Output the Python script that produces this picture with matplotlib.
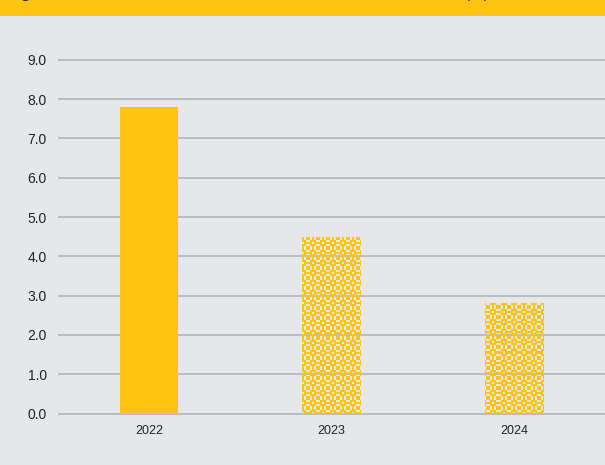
import numpy as np
import matplotlib
matplotlib.use("Agg")
import matplotlib.pyplot as plt
from matplotlib.patches import Rectangle

plt.rcParams['font.family'] = ['Liberation Sans', 'DejaVu Sans']

# values per year
anos = ['2022', '2023', '2024']
valores = [7.8, 4.5, 2.8]
projecao = [False, True, True]  # hatched = forecast
yticks = [0.0, 1.0, 2.0, 3.0, 4.0, 5.0, 6.0, 7.0, 8.0, 9.0]

amarelo = '#ffc312'
fundo = '#e6e7e8'
grade = '#b3b4b7'

fig = plt.figure(figsize=(6.05, 4.65), dpi=100, facecolor=fundo)
ax = fig.add_axes([58/605, 0.1065, 547/605, 0.769])
ax.set_facecolor(fundo)

# faixa amarela do título
fig.patches.append(Rectangle((0, 449/465), 1, 16/465, transform=fig.transFigure,
                             facecolor=amarelo, edgecolor='none', zorder=0))
fig.text(0.012, 1.004, 'Figure', fontsize=12, fontweight='bold', color='#222222',
         va='baseline', ha='left')
fig.text(0.808, 1.004, '(%)', fontsize=11, color='#222222', va='baseline', ha='right')

x = np.arange(len(anos))

for v in yticks:
    ax.axhline(v, color=grade, lw=1.2, zorder=1)

barras = ax.bar(x, valores, width=0.32, zorder=2,
                color=[('none' if p else amarelo) for p in projecao], edgecolor='none')

# textura de anéis para as barras projetadas
motivo = np.array([
    [1, 0, 1, 0, 1],
    [0, 1, 1, 1, 0],
    [1, 1, 0, 1, 1],
    [0, 1, 1, 1, 0],
    [1, 0, 1, 0, 1],
])
h, w = 358, 547
cel = 2
tile = np.kron(motivo, np.ones((cel, cel)))
mask = np.tile(tile, (h // tile.shape[0] + 1, w // tile.shape[1] + 1))[:h, :w]
rgba = np.zeros((h, w, 4))
rgba[..., :3] = matplotlib.colors.to_rgb(amarelo)
rgba[..., 3] = mask
for b, p in zip(barras, projecao):
    if p:
        im = ax.imshow(rgba, extent=(-0.5, 2.5, -0.05, 9.05), aspect='auto',
                       interpolation='nearest', zorder=3)
        im.set_clip_path(b)

ax.set_xticks(x)
ax.set_xticklabels(anos, fontsize=9, color='#222222')
ax.set_yticks(yticks)
ax.set_yticklabels([f'{v:.1f}' for v in yticks], fontsize=10, color='#222222')
ax.tick_params(axis='both', length=0)
ax.tick_params(axis='x', pad=7)
ax.tick_params(axis='y', pad=8)
for s in ax.spines.values():
    s.set_visible(False)
ax.set_xlim(-0.5, 2.5)
ax.set_ylim(-0.05, 9.05)

fig.savefig('out.png', dpi=100, facecolor=fundo)
